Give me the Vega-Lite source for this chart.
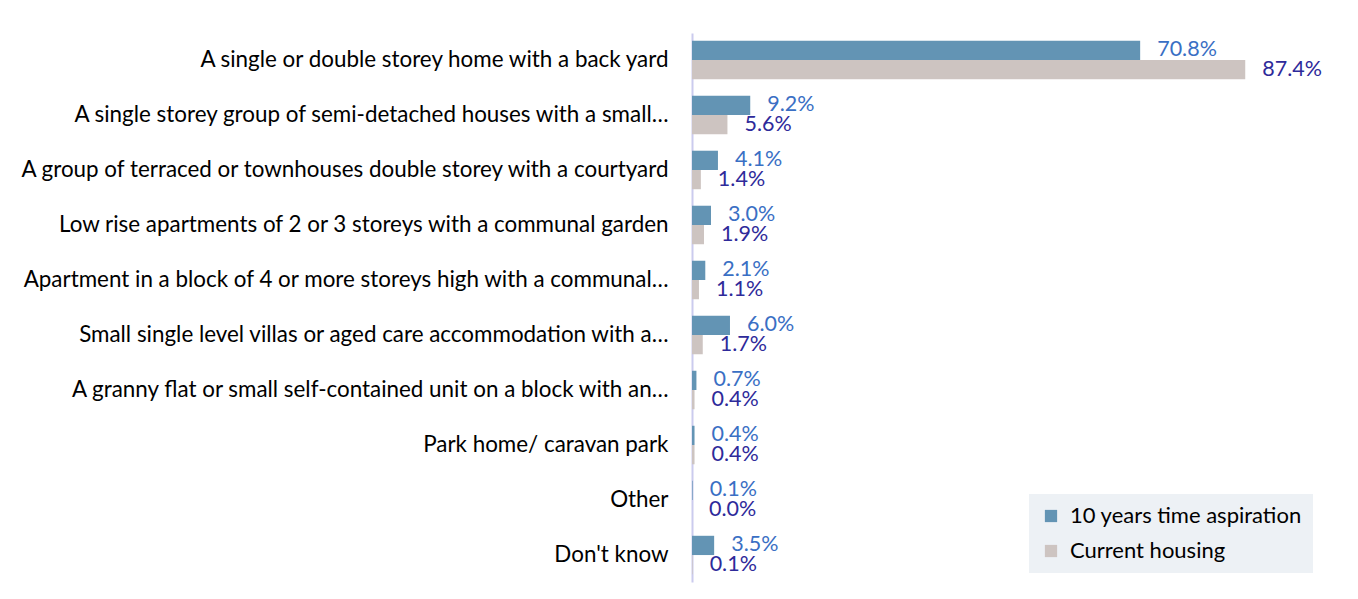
{
  "$schema": "https://vega.github.io/schema/vega-lite/v6.json",
  "width": 633,
  "height": 549,
  "autosize": "none",
  "padding": {"left": 692, "top": 33, "right": 33, "bottom": 17},
  "background": "white",
  "config": {"view": {"stroke": null}, "font": "Lato"},
  "data": {
    "values": [
      {"category": "A single or double storey home with a back yard", "series": "10 years time aspiration", "value": 0.708},
      {"category": "A single or double storey home with a back yard", "series": "Current housing", "value": 0.874},
      {"category": "A single storey group of semi-detached houses with a small…", "series": "10 years time aspiration", "value": 0.092},
      {"category": "A single storey group of semi-detached houses with a small…", "series": "Current housing", "value": 0.056},
      {"category": "A group of terraced or townhouses double storey with a courtyard", "series": "10 years time aspiration", "value": 0.041},
      {"category": "A group of terraced or townhouses double storey with a courtyard", "series": "Current housing", "value": 0.014},
      {"category": "Low rise apartments of 2 or 3 storeys with a communal garden", "series": "10 years time aspiration", "value": 0.030},
      {"category": "Low rise apartments of 2 or 3 storeys with a communal garden", "series": "Current housing", "value": 0.019},
      {"category": "Apartment in a block of 4 or more storeys high with a communal…", "series": "10 years time aspiration", "value": 0.021},
      {"category": "Apartment in a block of 4 or more storeys high with a communal…", "series": "Current housing", "value": 0.011},
      {"category": "Small single level villas or aged care accommodation with a…", "series": "10 years time aspiration", "value": 0.060},
      {"category": "Small single level villas or aged care accommodation with a…", "series": "Current housing", "value": 0.017},
      {"category": "A granny flat or small self-contained unit on a block with an…", "series": "10 years time aspiration", "value": 0.007},
      {"category": "A granny flat or small self-contained unit on a block with an…", "series": "Current housing", "value": 0.004},
      {"category": "Park home/ caravan park", "series": "10 years time aspiration", "value": 0.004},
      {"category": "Park home/ caravan park", "series": "Current housing", "value": 0.004},
      {"category": "Other", "series": "10 years time aspiration", "value": 0.001},
      {"category": "Other", "series": "Current housing", "value": 0.000},
      {"category": "Don't know", "series": "10 years time aspiration", "value": 0.035},
      {"category": "Don't know", "series": "Current housing", "value": 0.001}
    ]
  },
  "encoding": {
    "y": {
      "field": "category",
      "type": "nominal",
      "sort": null,
      "title": null,
      "scale": {"paddingInner": 0.3, "paddingOuter": 0.14},
      "axis": {
        "ticks": false,
        "domainColor": "#cbcbee",
        "domainWidth": 2,
        "labelFontSize": 22.4,
        "labelColor": "#000000",
        "labelPadding": 24,
        "labelLimit": 0
      }
    },
    "yOffset": {"field": "series", "type": "nominal", "sort": ["10 years time aspiration", "Current housing"]},
    "x": {
      "field": "value",
      "type": "quantitative",
      "scale": {"domain": [0, 1], "nice": false},
      "axis": null
    }
  },
  "layer": [
    {
      "mark": {"type": "bar"},
      "encoding": {
        "color": {
          "field": "series",
          "type": "nominal",
          "sort": ["10 years time aspiration", "Current housing"],
          "scale": {"range": ["#6394b4", "#cdc4c1"]},
          "legend": {
            "title": null,
            "orient": "none",
            "legendX": 337,
            "legendY": 461,
            "fillColor": "#edf1f5",
            "padding": 11,
            "symbolType": "square",
            "symbolSize": 150,
            "symbolStrokeWidth": 0,
            "labelFontSize": 22,
            "labelColor": "#000000",
            "labelOffset": 8,
            "rowPadding": 13,
            "labelLimit": 0
          }
        }
      }
    },
    {
      "mark": {"type": "text", "align": "left", "baseline": "middle", "dx": 17, "fontSize": 21.5},
      "encoding": {
        "text": {"field": "value", "type": "quantitative", "format": ".1%"},
        "color": {
          "field": "series",
          "type": "nominal",
          "sort": ["10 years time aspiration", "Current housing"],
          "scale": {"range": ["#3a6fc4", "#2e2a9a"]},
          "legend": null
        }
      }
    }
  ],
  "resolve": {"scale": {"color": "independent"}}
}
